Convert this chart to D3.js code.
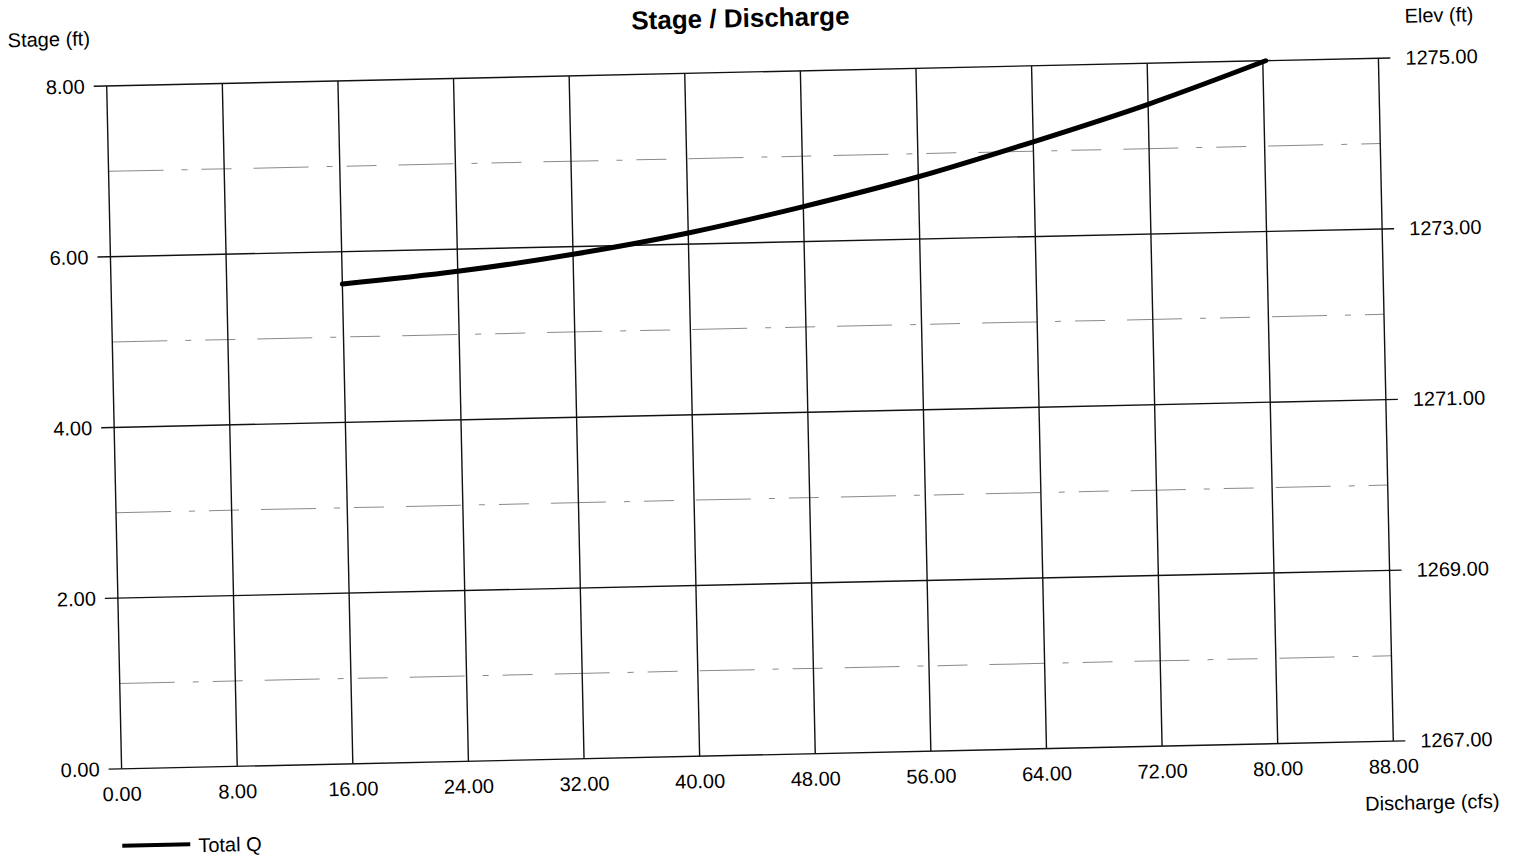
<!DOCTYPE html>
<html>
<head>
<meta charset="utf-8">
<script src="https://cdn.jsdelivr.net/npm/d3@7"></script>
<style>
  body { margin: 0; background: #fff; }
  text { font-family: Arial, "Liberation Sans", Helvetica, sans-serif; fill: #000; }
</style>
</head>
<body>
<svg id="chart" width="1514" height="857"></svg>
<script>
// Rating curve: discharge (cfs) vs stage (ft) above the base elevation
const discharge = [16.0, 24.0, 32.0, 40.0, 48.0, 56.0, 64.0, 72.0, 80.2];
const stage     = [5.62, 5.74, 5.91, 6.13, 6.41, 6.73, 7.11, 7.52, 8.00];

const dischargeTicks  = [0, 8, 16, 24, 32, 40, 48, 56, 64, 72, 80, 88];
const stageTicks      = [0, 2, 4, 6, 8];
const stageMinorTicks = [1, 3, 5, 7];
const elevTicks       = [1267, 1269, 1271, 1273, 1275];

const seriesName = "Total Q";
const baseElev = 1267;

const W = 1272, H = 683;
const svg = d3.select("#chart");

// The whole sheet sits slightly skewed on the page
const g = svg.append("g").attr("transform", "translate(106.7,86) rotate(-1.25)");

const x = d3.scaleLinear().domain([0, 88]).range([0, W]);
const y = d3.scaleLinear().domain([0, 8]).range([H, 0]);
const yElev = d3.scaleLinear().domain([baseElev, baseElev + 8]).range([H, 0]);
const fmt = d3.format(".2f");

// minor dotted gridlines
g.append("g").selectAll("line").data(stageMinorTicks).join("line")
  .attr("x1", 0).attr("x2", W)
  .attr("y1", d => y(d)).attr("y2", d => y(d))
  .attr("stroke", "#8a8a8a").attr("stroke-width", 1)
  .attr("stroke-dasharray", "55 18 6 14 30 22");

// major vertical gridlines
g.append("g").selectAll("line").data(dischargeTicks).join("line")
  .attr("x1", d => x(d)).attr("x2", d => x(d))
  .attr("y1", 0).attr("y2", H)
  .attr("stroke", "#111").attr("stroke-width", 1.4);

// major horizontal gridlines, with outward ticks on both sides
g.append("g").selectAll("line").data(stageTicks).join("line")
  .attr("x1", -13).attr("x2", W + 12)
  .attr("y1", d => y(d)).attr("y2", d => y(d))
  .attr("stroke", "#111").attr("stroke-width", 1.4);

// left axis labels
g.append("g").selectAll("text").data(stageTicks).join("text")
  .attr("x", -22).attr("y", d => y(d))
  .attr("text-anchor", "end").attr("dominant-baseline", "central")
  .attr("font-size", 20).text(d => fmt(d));

// right axis labels (elevation)
g.append("g").selectAll("text").data(elevTicks).join("text")
  .attr("x", W + 27).attr("y", d => yElev(d))
  .attr("text-anchor", "start").attr("dominant-baseline", "central")
  .attr("font-size", 20).text(d => fmt(d));

// bottom axis labels
g.append("g").selectAll("text").data(dischargeTicks).join("text")
  .attr("x", d => x(d)).attr("y", H + 25)
  .attr("text-anchor", "middle").attr("dominant-baseline", "central")
  .attr("font-size", 20).text(d => fmt(d));

// axis titles
g.append("text").attr("x", -98).attr("y", -48)
  .attr("dominant-baseline", "central").attr("font-size", 20).text("Stage (ft)");
g.append("text").attr("x", W + 27).attr("y", -42)
  .attr("dominant-baseline", "central").attr("font-size", 20).text("Elev (ft)");
g.append("text").attr("x", W + 105).attr("y", H + 62)
  .attr("text-anchor", "end").attr("dominant-baseline", "central")
  .attr("font-size", 20).text("Discharge (cfs)");

// chart title
g.append("text").attr("x", 635).attr("y", -54)
  .attr("text-anchor", "middle").attr("dominant-baseline", "central")
  .attr("font-size", 26).attr("font-weight", "bold").text("Stage / Discharge");

// rating curve
const pts = discharge.map((q, i) => [q, stage[i]]);
g.append("path").datum(pts)
  .attr("fill", "none").attr("stroke", "#000").attr("stroke-width", 5)
  .attr("stroke-linecap", "round")
  .attr("d", d3.line().x(d => x(d[0])).y(d => y(d[1])).curve(d3.curveMonotoneX));

// legend
const lg = g.append("g").attr("transform", `translate(0,${H + 77})`);
lg.append("line").attr("x1", -1).attr("x2", 67).attr("y1", 0).attr("y2", 0)
  .attr("stroke", "#000").attr("stroke-width", 4);
lg.append("text").attr("x", 75).attr("y", 1)
  .attr("dominant-baseline", "central").attr("font-size", 20).text(seriesName);
</script>
</body>
</html>
